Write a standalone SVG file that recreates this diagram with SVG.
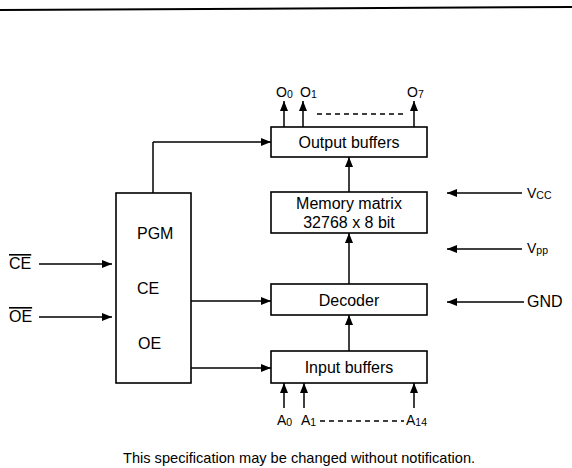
<svg xmlns="http://www.w3.org/2000/svg" width="572" height="468" viewBox="0 0 572 468">
<defs>
<marker id="ah" viewBox="0 0 10 8" refX="10" refY="4" markerWidth="10" markerHeight="8" markerUnits="userSpaceOnUse" orient="auto">
<path d="M0,0 L10,4 L0,8 Z" fill="#000"/>
</marker>
</defs>
<style>
text{font-family:"Liberation Sans",Arial,sans-serif;fill:#000}
.lbl{font-size:16px;text-anchor:middle}
.side{font-size:16px}
.pin{font-size:14px}
.sub{font-size:10.5px}
.box{fill:#fff;stroke:#000;stroke-width:1.6}
.ln{fill:none;stroke:#000;stroke-width:1.5}
.ar{fill:none;stroke:#000;stroke-width:1.5;marker-end:url(#ah)}
.dash{fill:none;stroke:#000;stroke-width:1.4;stroke-dasharray:5 4}
</style>
<rect width="572" height="468" fill="#fff"/>
<line x1="0" y1="10" x2="572" y2="7" stroke="#000" stroke-width="2"/>

<g id="connectors">
<path class="ln" d="M153,193 V142"/>
<path class="ar" d="M153,142 H271"/>
<path class="ar" d="M191,301 H271"/>
<path class="ar" d="M191,368 H271"/>
<path class="ar" d="M39,264 H112"/>
<path class="ar" d="M39,317 H112"/>
<path class="ar" d="M349,192 V157"/>
<path class="ar" d="M349,284 V233"/>
<path class="ar" d="M349,351 V315"/>
<path class="ar" d="M284,127 V101"/>
<path class="ar" d="M303,127 V101"/>
<path class="ar" d="M414,127 V101"/>
<path class="dash" d="M317,114 H405"/>
<path class="ar" d="M284,408 V383"/>
<path class="ar" d="M304,408 V383"/>
<path class="ar" d="M414,408 V383"/>
<path class="dash" d="M320,421 H404"/>
<path class="ar" d="M522,193 H447"/>
<path class="ar" d="M522,249 H447"/>
<path class="ar" d="M524,302 H447"/>
</g>

<g id="control">
<rect class="box" x="116" y="193" width="75" height="190"/>
<text class="side" x="137" y="239">PGM</text>
<text class="side" x="137" y="294">CE</text>
<text class="side" x="138" y="349">OE</text>
</g>
<g id="output-buffers">
<rect class="box" x="271" y="127" width="156" height="30"/>
<text class="lbl" x="349" y="148">Output buffers</text>
</g>
<g id="memory-matrix">
<rect class="box" x="271" y="192" width="156" height="41"/>
<text class="lbl" x="349" y="209">Memory matrix</text>
<text class="lbl" x="349" y="228">32768 x 8 bit</text>
</g>
<g id="decoder">
<rect class="box" x="271" y="284" width="156" height="31"/>
<text class="lbl" x="349" y="306">Decoder</text>
</g>
<g id="input-buffers">
<rect class="box" x="271" y="351" width="156" height="32"/>
<text class="lbl" x="349" y="373">Input buffers</text>
</g>

<g id="pins">
<text class="side" x="9" y="269" text-decoration="overline">CE</text>
<text class="side" x="9" y="322" text-decoration="overline">OE</text>
<text class="pin" x="276" y="97">O<tspan class="sub" dy="1">0</tspan></text>
<text class="pin" x="300" y="97">O<tspan class="sub" dy="1">1</tspan></text>
<text class="pin" x="407" y="97">O<tspan class="sub" dy="1">7</tspan></text>
<text class="pin" x="277" y="425">A<tspan class="sub" dy="1">0</tspan></text>
<text class="pin" x="301" y="425">A<tspan class="sub" dy="1">1</tspan></text>
<text class="pin" x="406" y="425">A<tspan class="sub" dy="1">14</tspan></text>
<text class="pin" x="527" y="198">V<tspan class="sub" dy="1">CC</tspan></text>
<text class="pin" x="527" y="253">V<tspan class="sub" dy="1">pp</tspan></text>
<text class="side" x="527" y="307">GND</text>
</g>
<text x="123" y="463" style="font-size:14.6px">This specification may be changed without notification.</text>
</svg>
